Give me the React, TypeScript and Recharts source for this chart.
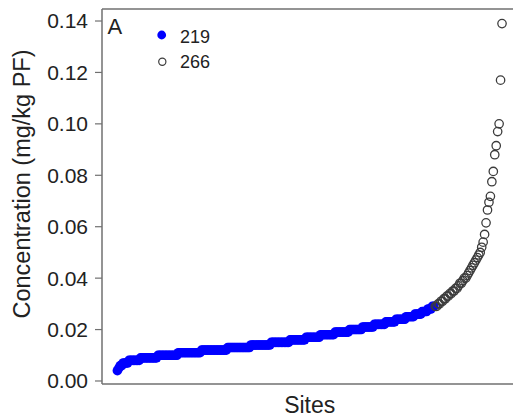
import React from 'react';
import { ScatterChart, Scatter, XAxis, YAxis, ReferenceLine, Legend } from 'recharts';

// Sorted site concentrations (mg/kg PF), group "219" (filled blue)
const blueValues = [
  0.004, 0.005, 0.006, 0.006, 0.007, 0.007, 0.007, 0.007,
  0.008, 0.008, 0.008, 0.008, 0.008, 0.008, 0.008, 0.008,
  0.009, 0.009, 0.009, 0.009, 0.009, 0.009, 0.009, 0.009, 0.009, 0.009, 0.009, 0.009,
  0.010, 0.010, 0.010, 0.010, 0.010, 0.010, 0.010, 0.010, 0.010, 0.010, 0.010, 0.010, 0.010, 0.010,
  0.011, 0.011, 0.011, 0.011, 0.011, 0.011, 0.011, 0.011, 0.011, 0.011, 0.011, 0.011, 0.011, 0.011, 0.011, 0.011,
  0.012, 0.012, 0.012, 0.012, 0.012, 0.012, 0.012, 0.012, 0.012, 0.012, 0.012, 0.012, 0.012, 0.012, 0.012, 0.012, 0.012, 0.012,
  0.013, 0.013, 0.013, 0.013, 0.013, 0.013, 0.013, 0.013, 0.013, 0.013, 0.013, 0.013, 0.013, 0.013, 0.013, 0.013,
  0.014, 0.014, 0.014, 0.014, 0.014, 0.014, 0.014, 0.014, 0.014, 0.014, 0.014, 0.014, 0.014, 0.014,
  0.015, 0.015, 0.015, 0.015, 0.015, 0.015, 0.015, 0.015, 0.015, 0.015, 0.015, 0.015, 0.015,
  0.016, 0.016, 0.016, 0.016, 0.016, 0.016, 0.016, 0.016, 0.016, 0.016, 0.016,
  0.017, 0.017, 0.017, 0.017, 0.017, 0.017, 0.017, 0.017, 0.017, 0.017,
  0.018, 0.018, 0.018, 0.018, 0.018, 0.018, 0.018, 0.018, 0.018, 0.018,
  0.019, 0.019, 0.019, 0.019, 0.019, 0.019, 0.019, 0.019, 0.019, 0.019,
  0.020, 0.020, 0.020, 0.020, 0.020, 0.020, 0.020, 0.020, 0.020,
  0.021, 0.021, 0.021, 0.021, 0.021, 0.021, 0.021, 0.021,
  0.022, 0.022, 0.022, 0.022, 0.022, 0.022, 0.022, 0.022,
  0.023, 0.023, 0.023, 0.023, 0.023, 0.023, 0.023,
  0.024, 0.024, 0.024, 0.024, 0.024, 0.024, 0.024,
  0.025, 0.025, 0.025, 0.025, 0.025, 0.025,
  0.026, 0.026, 0.026, 0.026, 0.026, 0.027, 0.027, 0.027, 0.027, 0.028, 0.028, 0.028, 0.029, 0.029,
];

// Sorted site concentrations (mg/kg PF), group "266" (open circles)
const openValues = [
  0.029, 0.029, 0.030, 0.030, 0.031, 0.031, 0.032, 0.032, 0.033, 0.033,
  0.034, 0.034, 0.035, 0.035, 0.036, 0.036, 0.037, 0.038, 0.038, 0.039,
  0.040, 0.040, 0.041, 0.042, 0.043, 0.044, 0.045, 0.046, 0.047, 0.048,
  0.049, 0.050, 0.052, 0.054, 0.057, 0.0615, 0.0665, 0.0695, 0.0718, 0.0775,
  0.0815, 0.088, 0.0915, 0.097, 0.100, 0.117, 0.139,
];

const yTicks = [0, 0.02, 0.04, 0.06, 0.08, 0.1, 0.12, 0.14];
const legendLabels = ['219', '266'];
const panelLabel = 'A';
const xTitle = 'Sites';
const yTitle = 'Concentration (mg/kg PF)';

const blueData = blueValues.map((v, i) => ({ site: i + 1, value: v }));
const openData = openValues.map((v, i) => ({ site: blueValues.length + i + 1, value: v }));

const X_DOMAIN: [number, number] = [-9.6, 276.6];
const Y_DOMAIN: [number, number] = [-0.00117, 0.14467];
const FONT = '"Liberation Sans", Arial, Helvetica, sans-serif';
const BLUE = '#0000ff';
const OPEN = '#3c3c3c';
const FRAME = '#707070';

const BlueDot = (props: any) => (
  <circle cx={props.cx} cy={props.cy} r={4.8} fill={BLUE} />
);
const OpenDot = (props: any) => (
  <circle cx={props.cx} cy={props.cy} r={4.2} fill="none" stroke={OPEN} strokeWidth={1.3} />
);

const LegendContent = () => (
  <svg width={140} height={70} style={{ overflow: 'visible', display: 'block' }}>
    <text x={7.5} y={23.5} fontSize={22} fontFamily={FONT} fill="#222">{panelLabel}</text>
    <circle cx={61.7} cy={25} r={4.4} fill={BLUE} />
    <text x={80} y={33.3} fontSize={18} fontFamily={FONT} fill="#222">{legendLabels[0]}</text>
    <circle cx={62.3} cy={51.7} r={3.6} fill="none" stroke={OPEN} strokeWidth={1.2} />
    <text x={80} y={58.3} fontSize={18} fontFamily={FONT} fill="#222">{legendLabels[1]}</text>
  </svg>
);

const XTitle = (props: any) => {
  const vb = props.viewBox || { x: 102, width: 415 };
  return (
    <text x={vb.x + vb.width / 2} y={413} textAnchor="middle" fontSize={23} fontFamily={FONT} fill="#222">
      {xTitle}
    </text>
  );
};

const YTitle = () => (
  <text x={30} y={184} transform="rotate(-90, 30, 184)" textAnchor="middle" fontSize={23.5} fontFamily={FONT} fill="#222">
    {yTitle}
  </text>
);

export default function App() {
  return (
    <div style={{ position: 'absolute', left: 0, top: 0, width: 513, height: 419, overflow: 'hidden', background: '#fff' }}>
      <ScatterChart width={513} height={419} margin={{ top: 9, right: -4.4, bottom: 0, left: 0 }}>
        <XAxis
          type="number"
          dataKey="site"
          domain={X_DOMAIN}
          allowDataOverflow
          height={35}
          axisLine={{ stroke: FRAME, strokeWidth: 1.5 }}
          tickLine={false}
          tick={false}
          label={<XTitle />}
        />
        <YAxis
          type="number"
          dataKey="value"
          domain={Y_DOMAIN}
          allowDataOverflow
          ticks={yTicks}
          width={102}
          axisLine={{ stroke: FRAME, strokeWidth: 1.5 }}
          tickLine={{ stroke: FRAME, strokeWidth: 1.2 }}
          tickSize={7}
          tickMargin={7}
          tickFormatter={(v: number) => v.toFixed(2)}
          tick={{ fontSize: 21, fontFamily: FONT, fill: '#222' }}
          interval={0}
          label={<YTitle />}
        />
        <ReferenceLine y={Y_DOMAIN[1]} stroke={FRAME} strokeWidth={1.5} ifOverflow="visible" />
        <Scatter data={blueData} dataKey="value" shape={BlueDot} isAnimationActive={false} />
        <Scatter data={openData} dataKey="value" shape={OpenDot} isAnimationActive={false} />
        <Legend
          layout="vertical"
          align="center"
          verticalAlign="middle"
          content={<LegendContent />}
          wrapperStyle={{ position: 'absolute', left: 100, top: 10, width: 140, height: 70 }}
        />
      </ScatterChart>
    </div>
  );
}
